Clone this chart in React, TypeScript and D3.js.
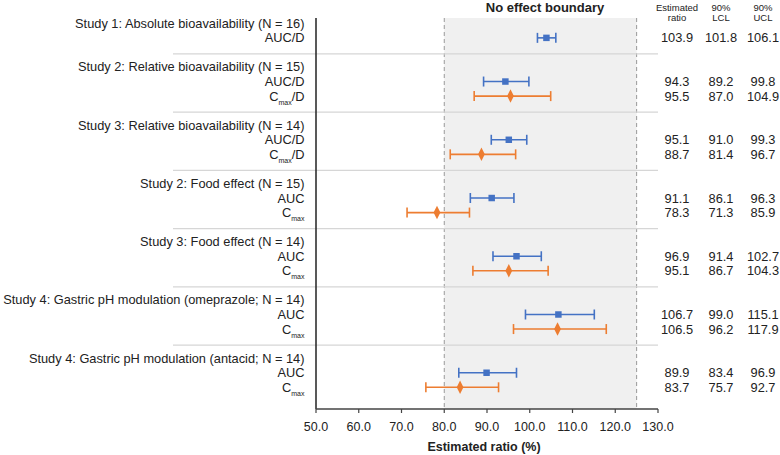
import React from "react";
import * as d3 from "d3";

const groupLabels = [
  "Study 1: Absolute bioavailability (N = 16)",
  "Study 2: Relative bioavailability (N = 15)",
  "Study 3: Relative bioavailability (N = 14)",
  "Study 2: Food effect (N = 15)",
  "Study 3: Food effect (N = 14)",
  "Study 4: Gastric pH modulation (omeprazole; N = 14)",
  "Study 4: Gastric pH modulation (antacid; N = 14)",
];
const rowGroup = [0, 1, 1, 2, 2, 3, 3, 4, 4, 5, 5, 6, 6];
const rowMetric = ["AUC", "AUC", "Cmax", "AUC", "Cmax", "AUC", "Cmax", "AUC", "Cmax", "AUC", "Cmax", "AUC", "Cmax"];
const rowPerDose = [true, true, true, true, true, false, false, false, false, false, false, false, false];
const ratio = [103.9, 94.3, 95.5, 95.1, 88.7, 91.1, 78.3, 96.9, 95.1, 106.7, 106.5, 89.9, 83.7];
const lcl = [101.8, 89.2, 87.0, 91.0, 81.4, 86.1, 71.3, 91.4, 86.7, 99.0, 96.2, 83.4, 75.7];
const ucl = [106.1, 99.8, 104.9, 99.3, 96.7, 96.3, 85.9, 102.7, 104.3, 115.1, 117.9, 96.9, 92.7];
const xTicks = [50, 60, 70, 80, 90, 100, 110, 120, 130];
const boundary = [80, 125];

const FONT = "'Liberation Sans', Arial, Helvetica, sans-serif";
const BLUE = "#4472c4";
const ORANGE = "#ed7d31";

export default function App() {
  const W = 780, H = 455;
  const x = d3.scaleLinear().domain([50, 130]).range([316, 658]);
  const y = d3.scaleLinear().domain([0, 25]).range([23.3, 387.3]);
  const plotTop = 18, plotBottom = 409;

  const headerSlots: number[] = [];
  const rowSlots: number[] = [];
  const sepSlots: number[] = [];
  let s = 0;
  groupLabels.forEach((_, gi) => {
    headerSlots.push(s);
    s++;
    rowGroup.forEach((g, ri) => {
      if (g === gi) {
        rowSlots[ri] = s;
        s++;
      }
    });
    if (gi < groupLabels.length - 1) {
      sepSlots.push(s);
      s++;
    }
  });

  const fs = 12.8;
  const labelX = 304.5;
  const colX = [677, 721, 763];

  const diamond = d3.symbol().type(d3.symbolDiamond).size(40)();
  const square = d3.symbol().type(d3.symbolSquare).size(42)();

  return (
    <svg width={W} height={H} style={{ position: "absolute", left: 0, top: 0, fontFamily: FONT }}>
      <rect x={0} y={0} width={W} height={H} fill="#fff" />
      <rect x={x(boundary[0])} y={plotTop} width={x(boundary[1]) - x(boundary[0])} height={plotBottom - plotTop} fill="#f0f0f0" />
      {boundary.map((b) => (
        <line key={b} x1={x(b)} x2={x(b)} y1={plotTop} y2={plotBottom} stroke="#999" strokeWidth={1} strokeDasharray="4,3" />
      ))}
      <text x={545} y={7} dy="0.35em" textAnchor="middle" fontWeight="bold" fontSize={13} fill="#222">No effect boundary</text>

      {sepSlots.map((sl) => (
        <line key={sl} x1={173} x2={658} y1={y(sl) + 1.5} y2={y(sl) + 1.5} stroke="#d6d6d6" strokeWidth={1.2} />
      ))}

      <line x1={316} x2={316} y1={plotTop} y2={plotBottom} stroke="#222" strokeWidth={1.5} />
      <line x1={316} x2={658} y1={plotBottom} y2={plotBottom} stroke="#444" strokeWidth={1.5} />
      {xTicks.map((t) => (
        <g key={t}>
          <line x1={x(t)} x2={x(t)} y1={plotBottom} y2={plotBottom + 4} stroke="#444" strokeWidth={1.2} />
          <text x={x(t)} y={426.7} dy="0.35em" textAnchor="middle" fontSize={12.5} fill="#222">{t.toFixed(1)}</text>
        </g>
      ))}
      <text x={484} y={446.7} dy="0.35em" textAnchor="middle" fontWeight="bold" fontSize={12.5} fill="#222">Estimated ratio (%)</text>

      {groupLabels.map((g, i) => (
        <text key={g} x={labelX} y={y(headerSlots[i])} dy="0.35em" textAnchor="end" fontSize={fs} fill="#222">{g}</text>
      ))}
      {rowMetric.map((m, i) => (
        <text key={i} x={labelX} y={y(rowSlots[i])} dy="0.35em" textAnchor="end" fontSize={fs} fill="#222">
          {m === "AUC" ? (
            <tspan>AUC{rowPerDose[i] ? "/D" : ""}</tspan>
          ) : (
            <>
              <tspan>C</tspan>
              <tspan fontSize={7} dy="4">max</tspan>
              {rowPerDose[i] ? <tspan dy="-4">/D</tspan> : null}
            </>
          )}
        </text>
      ))}

      {[["Estimated", "ratio"], ["90%", "LCL"], ["90%", "UCL"]].map((h, i) => (
        <text key={i} x={colX[i]} y={7.3} textAnchor="middle" fontSize={9.5} fill="#222">
          <tspan x={colX[i]} dy="0.35em">{h[0]}</tspan>
          <tspan x={colX[i]} dy="10">{h[1]}</tspan>
        </text>
      ))}

      {ratio.map((r, i) => {
        const yy = y(rowSlots[i]);
        const c = rowMetric[i] === "AUC" ? BLUE : ORANGE;
        return (
          <g key={i}>
            <line x1={x(lcl[i])} x2={x(ucl[i])} y1={yy} y2={yy} stroke={c} strokeWidth={1.6} />
            <line x1={x(lcl[i])} x2={x(lcl[i])} y1={yy - 5} y2={yy + 5} stroke={c} strokeWidth={1.6} />
            <line x1={x(ucl[i])} x2={x(ucl[i])} y1={yy - 5} y2={yy + 5} stroke={c} strokeWidth={1.6} />
            {rowMetric[i] === "AUC" ? (
              <path d={square as string} transform={`translate(${x(r)},${yy})`} fill={c} />
            ) : (
              <path d={diamond as string} transform={`translate(${x(r)},${yy}) scale(1,1.15)`} fill={c} />
            )}
            {[r, lcl[i], ucl[i]].map((v, j) => (
              <text key={j} x={colX[j]} y={yy} dy="0.35em" textAnchor="middle" fontSize={fs} fill="#222">{v.toFixed(1)}</text>
            ))}
          </g>
        );
      })}
    </svg>
  );
}
